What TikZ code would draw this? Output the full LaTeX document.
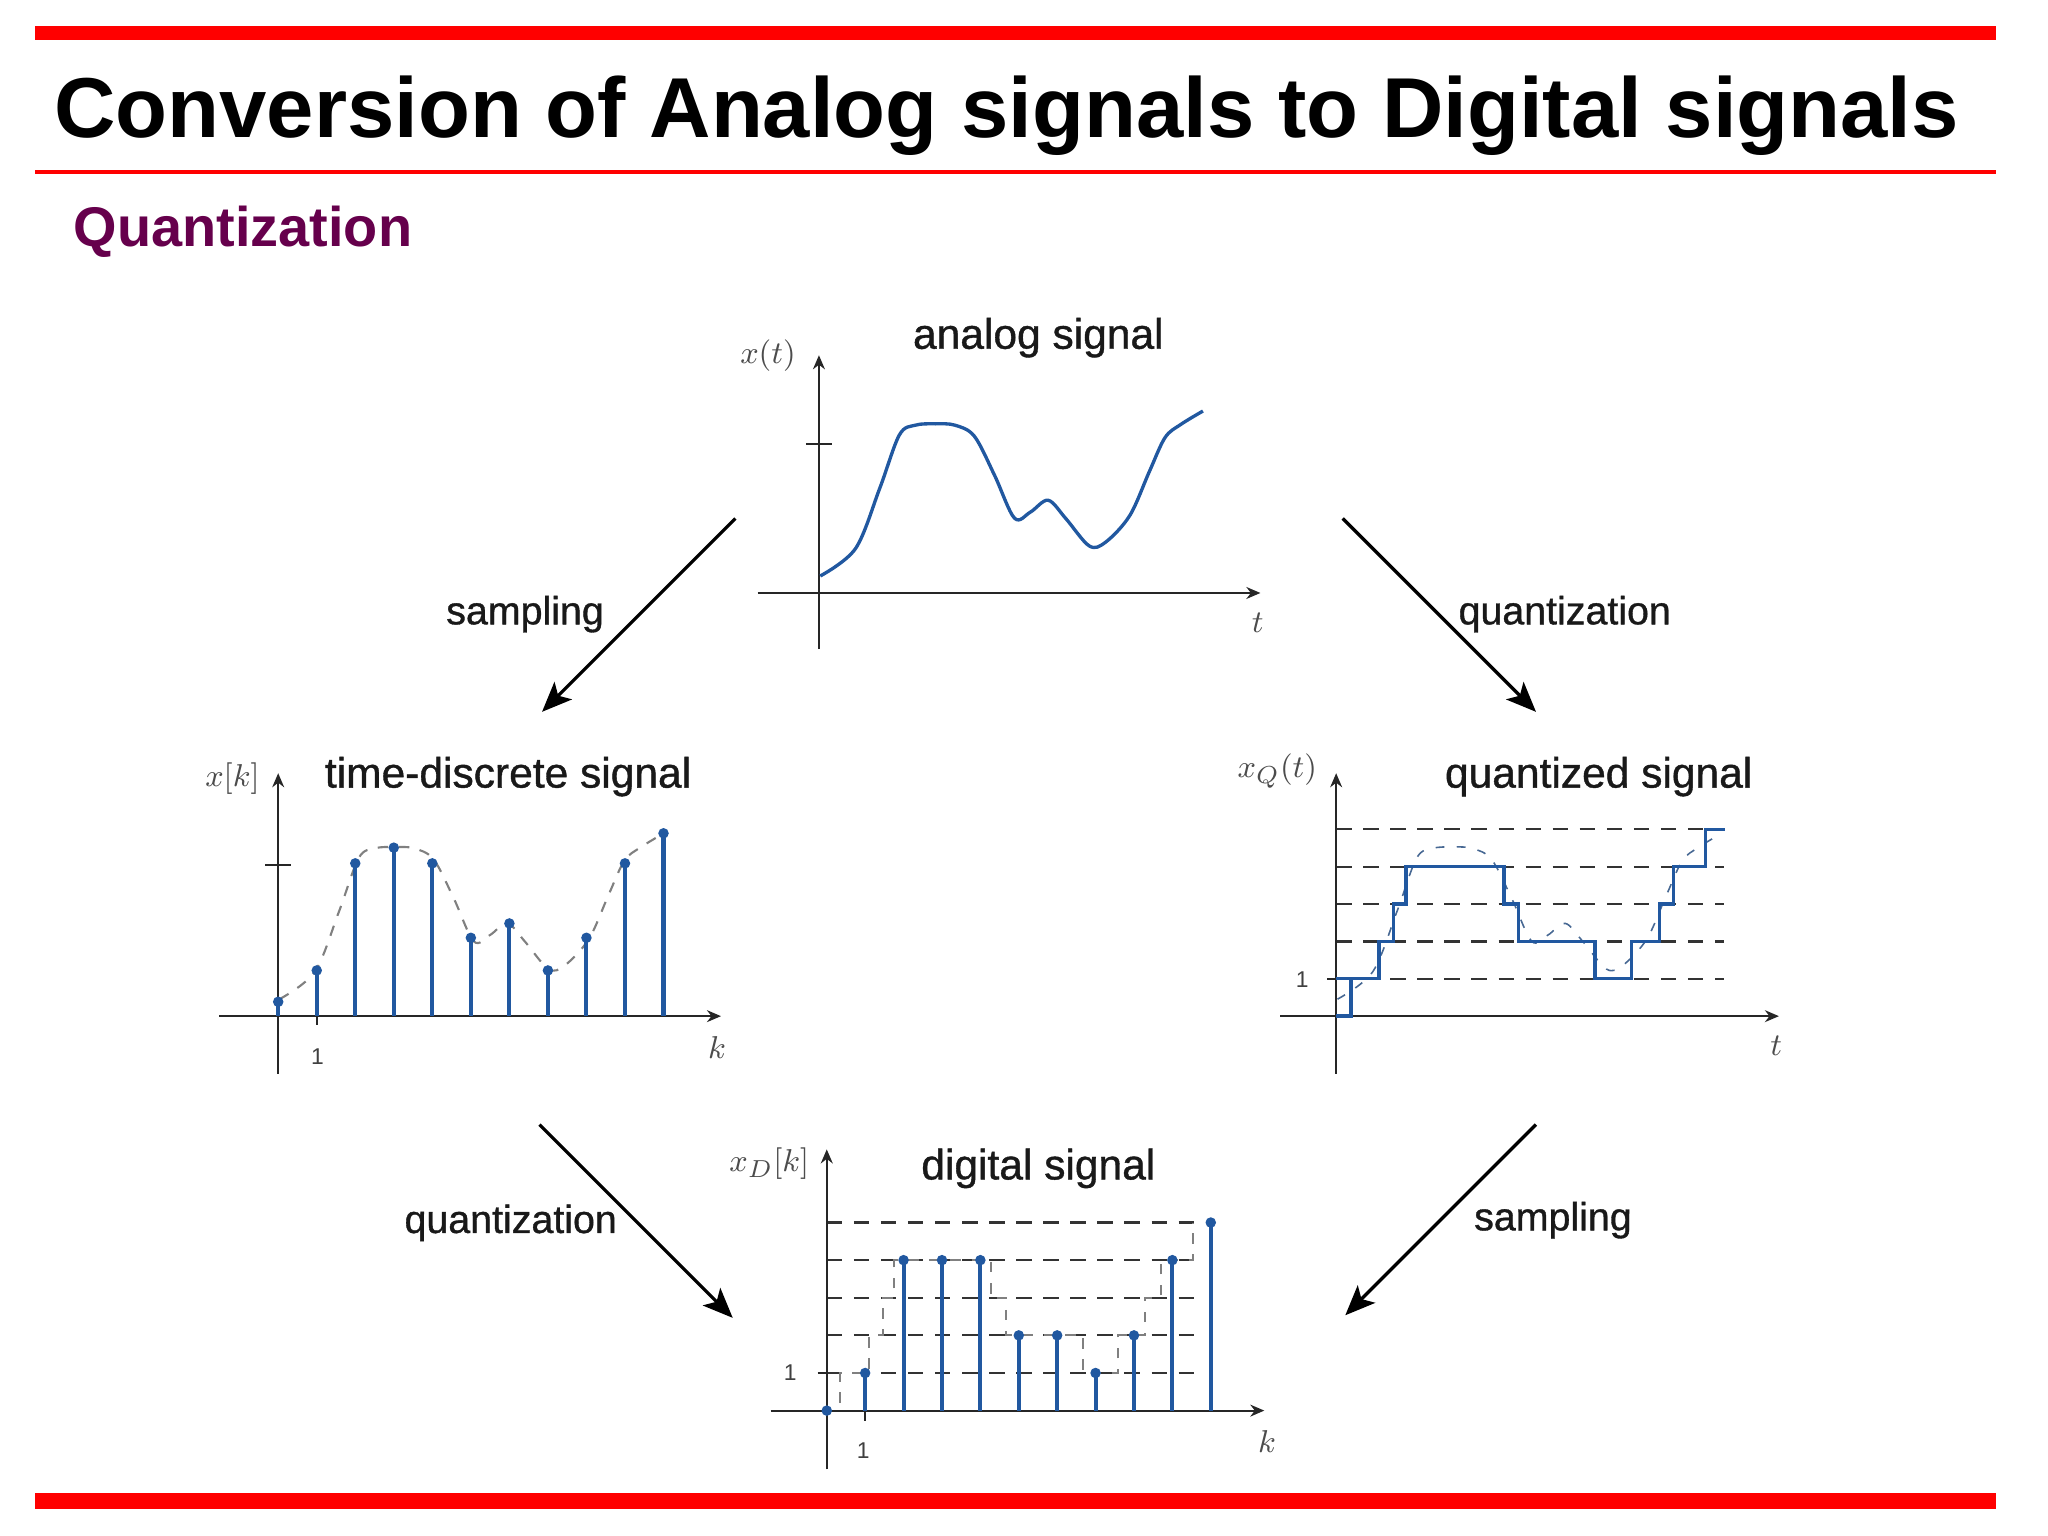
\documentclass[tikz,border=0pt]{standalone}
\usepackage{fontspec}
\setmainfont{Liberation Sans}
\newfontfamily\heavyish{Liberation Sans}[BoldFont={Liberation Sans}, BoldFeatures={FakeBold=0.9}]
\usetikzlibrary{arrows.meta}
\definecolor{redbar}{RGB}{255,0,0}
\definecolor{quantpurple}{RGB}{102,0,76}
\definecolor{sigblue}{RGB}{33,88,160}
\definecolor{txtdark}{RGB}{25,25,25}
\newcommand\analogcurve{plot[smooth, tension=0.55] coordinates {(628,441) (655,420) (673.5,374) (688.6,333) (701,325.5) (716,324.5) (731,325.5) (746,334) (761.5,364) (776.7,396.7) (789,392) (802.5,383) (816,397) (834,418) (846.6,415) (865,394.7) (880,361) (892,335) (904,325) (921,314.7)}}
\begin{document}
\begin{tikzpicture}[x=0.013061cm, y=-0.013061cm,
  axisline/.style={line width=0.55pt, black!85, -{Stealth[length=4pt,width=3.4pt]}},
  plain/.style={line width=0.55pt, black!85},
  stemline/.style={sigblue, line width=1.15pt},
  sigline/.style={sigblue, line width=0.95pt},
  levelline/.style={line width=0.6pt, black!80, dash pattern=on 4.4pt off 3.3pt},
  greydash/.style={line width=0.6pt, black!50, dash pattern=on 3pt off 3pt},
  flowarrow/.style={line width=0.95pt, black, -{Stealth[length=8.5pt,width=7pt,inset=2pt]}},
  plottitle/.style={anchor=base, inner sep=0, text=txtdark, font=\fontsize{12.1}{14}\selectfont\heavyish\bfseries},
  flowlabel/.style={anchor=base, inner sep=0, text=txtdark, font=\fontsize{11.2}{13}\selectfont\heavyish\bfseries},
  axlabel/.style={inner sep=0, text=black!70, font=\fontsize{9.5}{11}\selectfont},
  numlabel/.style={inner sep=0, text=black!75, font=\fontsize{6.5}{8}\selectfont}]
\useasboundingbox (0,0) rectangle (1568,1176);

% red bars
\fill[redbar] (27,20) rectangle (1528,31);
\fill[redbar] (27,130.5) rectangle (1528,133.5);
\fill[redbar] (27,1143) rectangle (1528,1155);

% headings
\node[anchor=base west, inner sep=0, font=\fontsize{24.2}{29}\selectfont\bfseries] (title) at (41,105) {Conversion of Analog signals to Digital signals};
\node[anchor=base west, inner sep=0, text=quantpurple, font=\fontsize{15.9}{19}\selectfont\bfseries] (subtitle) at (56,189) {Quantization};

% ===== analog signal =====
\node[plottitle] (analogtitle) at (795,267) {analog signal};
\draw[axisline] (580,454) -- (965,454);
\draw[axisline] (627,497) -- (627,272);
\draw[plain] (617,340) -- (637,340);
\node[axlabel] (analogy) at (588,272) {$x(t)$};
\node[axlabel] (analogx) at (963,477) {$t$};
\draw[sigline] \analogcurve;

% ===== time-discrete signal =====
\node[plottitle] (discretetitle) at (389,603) {time-discrete signal};
\draw[axisline] (168,778) -- (552,778);
\draw[axisline] (213,822) -- (213,592);
\draw[plain] (203,662) -- (223,662);
\draw[plain] (242.5,778) -- (242.5,785);
\node[axlabel] (discretey) at (178,596) {$x[k]$};
\node[axlabel] (discretex) at (549,802) {$k$};
\node[numlabel] (discreteone) at (243,809) {1};
\begin{scope}[shift={(-414,324)}]
  \draw[greydash] \analogcurve;
\end{scope}
\foreach \xx/\yy in {213/767, 242.5/743, 272/661, 301.5/649, 331/661, 360.5/718, 390/707, 419.5/743, 449/718, 478.5/661, 508/638} {
  \draw[stemline] (\xx,778) -- (\xx,\yy);
  \fill[sigblue] (\xx,\yy) circle (1.5pt);
}

% ===== quantized signal =====
\node[plottitle] (quanttitle) at (1224,603) {quantized signal};
\foreach \yy in {749.4, 720.8, 692.2, 663.6, 635} {
  \draw[levelline] (1023,\yy) -- (1320,\yy);
}
\draw[axisline] (980,778) -- (1362,778);
\draw[axisline] (1023,822) -- (1023,592);
\draw[plain] (1016,749.4) -- (1023,749.4);
\node[axlabel] (quanty) at (978,590) {$x_Q(t)$};
\node[axlabel] (quantx) at (1360,801) {$t$};
\node[numlabel] (quantone) at (997,750) {1};
\begin{scope}[shift={(396,324)}]
  \draw[sigblue!60!gray, line width=0.45pt, dash pattern=on 2.5pt off 3.5pt] \analogcurve;
\end{scope}
\draw[sigline] (1023,749.4) -- (1034.3,749.4);
\draw[sigline] (1023,778) -- (1034.3,778) -- (1034.3,749.4) -- (1055.9,749.4) -- (1055.9,720.8) -- (1066.9,720.8) -- (1066.9,692.2) -- (1076.4,692.2) -- (1076.4,663.6) -- (1151.4,663.6) -- (1151.4,692.2) -- (1162.7,692.2) -- (1162.7,720.8) -- (1221.1,720.8) -- (1221.1,749.4) -- (1249.3,749.4) -- (1249.3,720.8) -- (1270.7,720.8) -- (1270.7,692.2) -- (1281.3,692.2) -- (1281.3,663.6) -- (1305.7,663.6) -- (1305.7,635) -- (1320.5,635);

% ===== digital signal =====
\node[plottitle] (digitaltitle) at (795,903) {digital signal};
\foreach \yy in {1051.2, 1022.4, 993.6, 964.8, 936} {
  \draw[levelline] (633,\yy) -- (915,\yy);
}
\draw[greydash] (633,1080) -- (643.3,1080) -- (643.3,1051.2) -- (665.5,1051.2) -- (665.5,1022.4) -- (675.8,1022.4) -- (675.8,993.6) -- (684.7,993.6) -- (684.7,964.8) -- (758.6,964.8) -- (758.6,993.6) -- (770.4,993.6) -- (770.4,1022.4) -- (829.5,1022.4) -- (829.5,1051.2) -- (856.1,1051.2) -- (856.1,1022.4) -- (876.8,1022.4) -- (876.8,993.6) -- (888.6,993.6) -- (888.6,964.8) -- (913.7,964.8) -- (913.7,936);
\draw[axisline] (590,1080) -- (968,1080);
\draw[axisline] (633,1125) -- (633,880);
\draw[plain] (626,1051.2) -- (633,1051.2);
\draw[plain] (662.4,1080) -- (662.4,1088);
\node[axlabel] (digitaly) at (589,891) {$x_D[k]$};
\node[axlabel] (digitalx) at (970,1104) {$k$};
\node[numlabel] (digitalone) at (605,1051) {1};
\node[numlabel] (digitalk) at (661,1111) {1};
\foreach \xx/\yy in {633/1080, 662.4/1051.2, 691.8/964.8, 721.2/964.8, 750.6/964.8, 780/1022.4, 809.4/1022.4, 838.8/1051.2, 868.2/1022.4, 897.6/964.8, 927/936} {
  \draw[stemline] (\xx,1080) -- (\xx,\yy);
  \fill[sigblue] (\xx,\yy) circle (1.5pt);
}

% ===== flow arrows =====
\coordinate (s1a) at (563,397); \coordinate (s1b) at (415,545);
\coordinate (q1a) at (1028,397); \coordinate (q1b) at (1176,545);
\coordinate (q2a) at (413,861); \coordinate (q2b) at (561,1009);
\coordinate (s2a) at (1176,861); \coordinate (s2b) at (1030,1007);
\draw[flowarrow] (s1a) -- (s1b);
\draw[flowarrow] (q1a) -- (q1b);
\draw[flowarrow] (q2a) -- (q2b);
\draw[flowarrow] (s2a) -- (s2b);
\node[flowlabel] (samplingone) at (402,478) {sampling};
\node[flowlabel] (quantone2) at (1198,478) {quantization};
\node[flowlabel] (quanttwo) at (391,944) {quantization};
\node[flowlabel] (samplingtwo) at (1189,942) {sampling};
\end{tikzpicture}
\end{document}
